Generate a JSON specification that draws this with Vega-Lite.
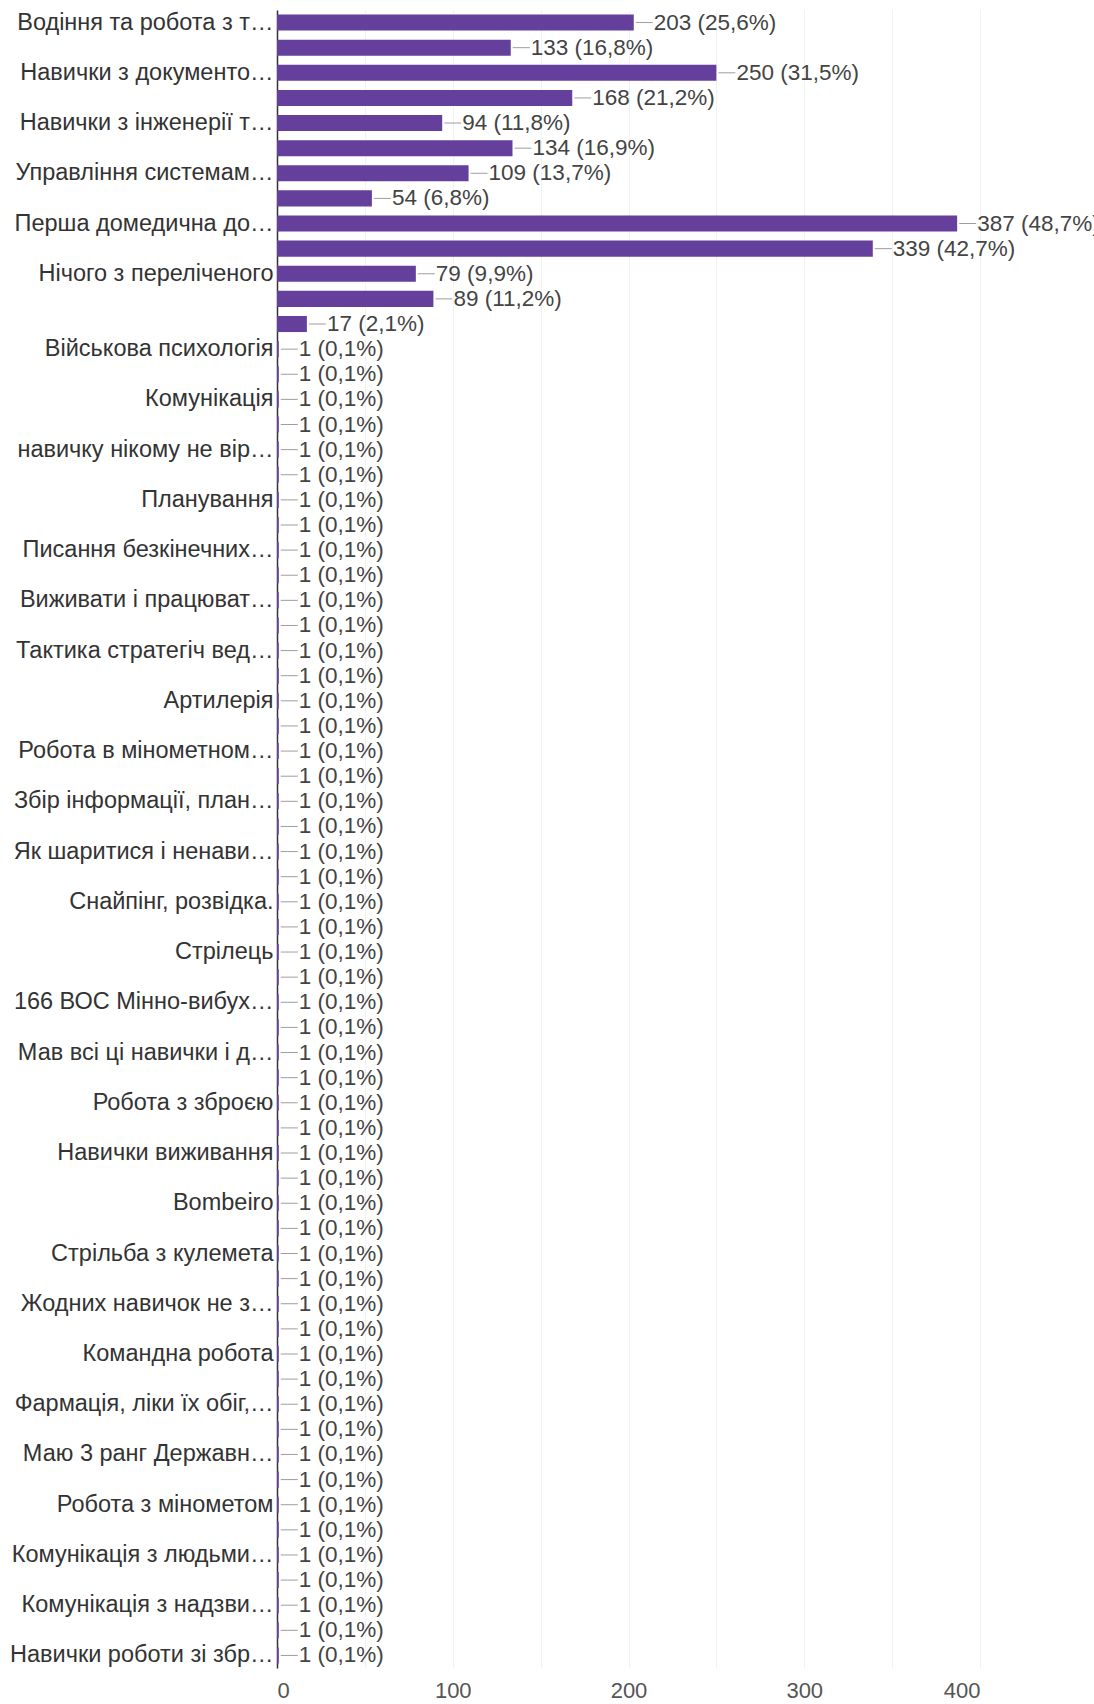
{
  "$schema": "https://vega.github.io/schema/vega-lite/v6.json",
  "autosize": {"type": "none"},
  "padding": {"left": 277, "top": 10, "right": 114, "bottom": 36},
  "width": 703,
  "height": 1658,
  "config": {
    "font": "Liberation Sans",
    "view": {"stroke": null},
    "background": "white"
  },
  "data": {
    "values": [
      {"answer": "Водіння та робота з т…", "count": 203, "display": "203 (25,6%)"},
      {"answer": "#2", "count": 133, "display": "133 (16,8%)"},
      {"answer": "Навички з документо…", "count": 250, "display": "250 (31,5%)"},
      {"answer": "#4", "count": 168, "display": "168 (21,2%)"},
      {"answer": "Навички з інженерії т…", "count": 94, "display": "94 (11,8%)"},
      {"answer": "#6", "count": 134, "display": "134 (16,9%)"},
      {"answer": "Управління системам…", "count": 109, "display": "109 (13,7%)"},
      {"answer": "#8", "count": 54, "display": "54 (6,8%)"},
      {"answer": "Перша домедична до…", "count": 387, "display": "387 (48,7%)"},
      {"answer": "#10", "count": 339, "display": "339 (42,7%)"},
      {"answer": "Нічого з переліченого", "count": 79, "display": "79 (9,9%)"},
      {"answer": "#12", "count": 89, "display": "89 (11,2%)"},
      {"answer": "#13", "count": 17, "display": "17 (2,1%)"},
      {"answer": "Військова психологія", "count": 1, "display": "1 (0,1%)"},
      {"answer": "#15", "count": 1, "display": "1 (0,1%)"},
      {"answer": "Комунікація", "count": 1, "display": "1 (0,1%)"},
      {"answer": "#17", "count": 1, "display": "1 (0,1%)"},
      {"answer": "навичку нікому не вір…", "count": 1, "display": "1 (0,1%)"},
      {"answer": "#19", "count": 1, "display": "1 (0,1%)"},
      {"answer": "Планування", "count": 1, "display": "1 (0,1%)"},
      {"answer": "#21", "count": 1, "display": "1 (0,1%)"},
      {"answer": "Писання безкінечних…", "count": 1, "display": "1 (0,1%)"},
      {"answer": "#23", "count": 1, "display": "1 (0,1%)"},
      {"answer": "Виживати і працюват…", "count": 1, "display": "1 (0,1%)"},
      {"answer": "#25", "count": 1, "display": "1 (0,1%)"},
      {"answer": "Тактика стратегіч вед…", "count": 1, "display": "1 (0,1%)"},
      {"answer": "#27", "count": 1, "display": "1 (0,1%)"},
      {"answer": "Артилерія", "count": 1, "display": "1 (0,1%)"},
      {"answer": "#29", "count": 1, "display": "1 (0,1%)"},
      {"answer": "Робота в мінометном…", "count": 1, "display": "1 (0,1%)"},
      {"answer": "#31", "count": 1, "display": "1 (0,1%)"},
      {"answer": "Збір інформації, план…", "count": 1, "display": "1 (0,1%)"},
      {"answer": "#33", "count": 1, "display": "1 (0,1%)"},
      {"answer": "Як шаритися і ненави…", "count": 1, "display": "1 (0,1%)"},
      {"answer": "#35", "count": 1, "display": "1 (0,1%)"},
      {"answer": "Снайпінг, розвідка.", "count": 1, "display": "1 (0,1%)"},
      {"answer": "#37", "count": 1, "display": "1 (0,1%)"},
      {"answer": "Стрілець", "count": 1, "display": "1 (0,1%)"},
      {"answer": "#39", "count": 1, "display": "1 (0,1%)"},
      {"answer": "166 ВОС Мінно-вибух…", "count": 1, "display": "1 (0,1%)"},
      {"answer": "#41", "count": 1, "display": "1 (0,1%)"},
      {"answer": "Мав всі ці навички і д…", "count": 1, "display": "1 (0,1%)"},
      {"answer": "#43", "count": 1, "display": "1 (0,1%)"},
      {"answer": "Робота з зброєю", "count": 1, "display": "1 (0,1%)"},
      {"answer": "#45", "count": 1, "display": "1 (0,1%)"},
      {"answer": "Навички виживання", "count": 1, "display": "1 (0,1%)"},
      {"answer": "#47", "count": 1, "display": "1 (0,1%)"},
      {"answer": "Bombeiro", "count": 1, "display": "1 (0,1%)"},
      {"answer": "#49", "count": 1, "display": "1 (0,1%)"},
      {"answer": "Стрільба з кулемета", "count": 1, "display": "1 (0,1%)"},
      {"answer": "#51", "count": 1, "display": "1 (0,1%)"},
      {"answer": "Жодних навичок не з…", "count": 1, "display": "1 (0,1%)"},
      {"answer": "#53", "count": 1, "display": "1 (0,1%)"},
      {"answer": "Командна робота", "count": 1, "display": "1 (0,1%)"},
      {"answer": "#55", "count": 1, "display": "1 (0,1%)"},
      {"answer": "Фармація, ліки їх обіг,…", "count": 1, "display": "1 (0,1%)"},
      {"answer": "#57", "count": 1, "display": "1 (0,1%)"},
      {"answer": "Маю 3 ранг Державн…", "count": 1, "display": "1 (0,1%)"},
      {"answer": "#59", "count": 1, "display": "1 (0,1%)"},
      {"answer": "Робота з мінометом", "count": 1, "display": "1 (0,1%)"},
      {"answer": "#61", "count": 1, "display": "1 (0,1%)"},
      {"answer": "Комунікація з людьми…", "count": 1, "display": "1 (0,1%)"},
      {"answer": "#63", "count": 1, "display": "1 (0,1%)"},
      {"answer": "Комунікація з надзви…", "count": 1, "display": "1 (0,1%)"},
      {"answer": "#65", "count": 1, "display": "1 (0,1%)"},
      {"answer": "Навички роботи зі збр…", "count": 1, "display": "1 (0,1%)"}
    ]
  },
  "encoding": {
    "y": {
      "field": "answer",
      "type": "nominal",
      "sort": null,
      "scale": {"paddingInner": 0.36, "paddingOuter": 0.18},
      "axis": {
        "title": null,
        "domain": true,
        "domainColor": "#333333",
        "domainWidth": 1.5,
        "ticks": false,
        "grid": false,
        "labelPadding": 4,
        "labelFontSize": 23.5,
        "labelColor": "#333333",
        "labelLimit": 0,
        "labelExpr": "indexof(datum.label, '#') == 0 ? '' : datum.label"
      }
    }
  },
  "layer": [
    {
      "mark": {"type": "bar", "color": "#643f9c"},
      "encoding": {
        "x": {
          "field": "count",
          "type": "quantitative",
          "scale": {"domain": [0, 400], "nice": false},
          "axis": {
            "title": null,
            "orient": "bottom",
            "values": [0, 50, 100, 150, 200, 250, 300, 350, 400],
            "labelExpr": "datum.value % 100 == 0 ? datum.label : ''",
            "grid": true,
            "gridColor": "#f2f2f2",
            "domain": false,
            "ticks": false,
            "labelPadding": 12,
            "labelFontSize": 22,
            "labelColor": "#555555"
          }
        }
      }
    },
    {
      "mark": {"type": "rule", "color": "#9e9e9e", "strokeWidth": 1, "xOffset": 2, "x2Offset": 19},
      "encoding": {
        "x": {"field": "count", "type": "quantitative"},
        "x2": {"field": "count"}
      }
    },
    {
      "mark": {"type": "text", "align": "left", "baseline": "middle", "dx": 20, "fontSize": 22.5, "color": "#444444"},
      "encoding": {
        "x": {"field": "count", "type": "quantitative"},
        "text": {"field": "display"}
      }
    }
  ]
}
